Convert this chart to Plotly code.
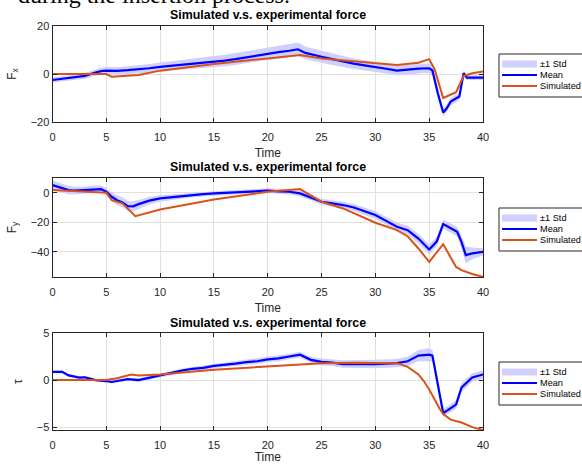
import plotly.graph_objects as go

# ---------------- data ----------------
t_fx = [0, 0.5, 1, 2, 3, 4, 4.5, 5, 6, 7, 8, 9, 10, 11, 12, 13, 14, 15, 16, 17, 18, 19, 20, 21, 22,
        22.8, 23.5, 24, 25, 26, 27, 28, 29, 30, 31, 32, 33, 34, 35, 35.3, 35.8, 36.3, 36.6, 37, 37.8,
        38.2, 38.5, 39, 40]
fx_mean = [-2.5, -2.2, -2.0, -1.4, -0.8, 0.6, 1.2, 1.4, 1.3, 1.6, 1.9, 2.4, 3.0, 3.4, 4.0, 4.3, 4.7, 5.0,
           5.6, 6.2, 7.0, 7.8, 8.6, 9.1, 9.7, 10.3, 8.8, 8.2, 7.2, 6.2, 5.1, 4.3, 3.6, 3.0, 2.2, 1.4, 1.9,
           2.2, 2.4, 1.5, -8, -16, -14.5, -11.5, -9.4, 0.3, -1.5, -1.4, -1.5]
fx_std = [1.0, 1.0, 1.0, 1.1, 1.2, 1.3, 1.4, 1.5, 1.5, 1.6, 1.7, 1.8, 1.8, 1.9, 2.0, 2.1, 2.2, 2.3, 2.4,
          2.5, 2.5, 2.6, 2.6, 2.7, 2.8, 2.8, 2.7, 2.6, 2.5, 2.4, 2.3, 2.2, 2.1, 2.0, 2.0, 2.0, 2.0, 2.0,
          2.0, 2.0, 2.0, 1.6, 1.5, 1.5, 1.5, 1.2, 1.0, 1.0, 1.0]
t_fx_sim = [0, 5, 5.5, 6, 8, 10, 15, 20, 23, 25, 30, 32, 34, 35, 35.5, 36.3, 37.5, 38.2, 39, 40]
fx_sim = [0, 0, -1.1, -1.0, -0.4, 1.4, 4.2, 6.5, 7.9, 6.5, 4.7, 3.75, 4.7, 6.2, 2, -10, -7.6, -0.8, 0.3, 1.0]

t_fy = [0, 0.5, 1, 1.5, 2, 3, 4, 4.5, 5, 5.5, 6, 6.5, 7, 7.5, 8, 8.5, 9, 10, 11, 12, 13, 14, 15, 17, 20,
        21, 22, 23, 24, 25, 26, 27, 28, 29, 30, 31, 32, 33, 34, 35, 35.7, 36.3, 37, 37.6, 38, 38.4, 39, 40]
fy_mean = [5.2, 4.0, 2.8, 1.8, 1.5, 1.8, 2.5, 2.5, 0.7, -2.7, -5, -6.5, -9, -9.2, -7.7, -6.5, -5.3, -3.8,
           -3, -2.2, -1.5, -0.9, -0.4, 0.3, 1.4, 1.0, 0.7, -0.4, -3, -6.1, -7.2, -8.3, -10, -12.5, -15,
           -19, -23, -25.3, -31, -38.4, -33, -21.2, -24.1, -26.4, -33.2, -42.2, -41, -40]
fy_std = [3.4, 3.2, 3.0, 2.8, 2.6, 2.4, 2.4, 2.4, 2.6, 3.0, 3.2, 3.4, 3.4, 3.4, 3.0, 2.8, 2.5, 2.2, 2.0,
          1.8, 1.6, 1.5, 1.5, 1.5, 1.6, 1.7, 1.8, 1.9, 2.0, 2.0, 2.2, 2.3, 2.4, 2.5, 2.5, 2.7, 2.8, 3.0,
          3.2, 3.4, 3.2, 3.0, 3.0, 3.2, 4.5, 5.6, 4.0, 2.5]
t_fy_sim = [0, 1, 4, 5, 5.5, 6, 6.5, 7.7, 10, 15, 20, 23, 25, 27, 30, 32, 33, 34, 35, 36.3, 37, 37.5, 38, 39, 40]
fy_sim = [1.8, 1.4, 0.7, 0, -5, -6.1, -7.2, -15.8, -11.3, -4.5, 0.7, 2.5, -6.1, -10.6, -20.3, -25.3,
          -29.4, -37.7, -46.8, -34.8, -43.4, -50.2, -52.4, -55, -56.9]

t_tau = [0, 0.9, 1.5, 2.5, 3, 4, 5, 5.5, 6, 7, 8, 9, 10, 11, 12, 13, 14, 15, 16, 17, 18, 19, 20, 21, 22,
         23, 24, 25, 26, 27, 30, 32, 33, 34, 35, 35.3, 36.3, 37, 37.5, 38, 39, 40]
tau_mean = [0.87, 0.87, 0.5, 0.26, 0.3, 0.0, -0.1, -0.2, -0.1, 0.1, 0.0, 0.26, 0.5, 0.7, 1.0, 1.2, 1.3,
            1.5, 1.6, 1.75, 1.9, 2.0, 2.2, 2.3, 2.5, 2.7, 2.15, 1.93, 1.85, 1.7, 1.7, 1.8, 2.0, 2.6, 2.7,
            2.6, -3.5, -3.0, -2.6, -0.8, 0.27, 0.6]
tau_std = [0.15, 0.15, 0.15, 0.15, 0.15, 0.15, 0.15, 0.15, 0.15, 0.15, 0.2, 0.2, 0.2, 0.2, 0.2, 0.2,
           0.25, 0.25, 0.25, 0.25, 0.3, 0.3, 0.3, 0.3, 0.3, 0.3, 0.3, 0.35, 0.35, 0.4, 0.45, 0.45, 0.5,
           0.6, 0.7, 0.6, 0.4, 0.4, 0.45, 0.5, 0.45, 0.45]
t_tau_sim = [0, 5, 6, 7.3, 8, 10, 15, 20, 22, 25, 28, 30, 32, 33, 34, 34.5, 35, 36, 36.3, 37, 38, 39, 40]
tau_sim = [0, 0, 0.2, 0.6, 0.5, 0.6, 1.1, 1.45, 1.57, 1.8, 1.85, 1.85, 1.8, 1.4, 0.6, -0.1, -1.0, -3.1,
           -3.6, -4.2, -4.5, -5.0, -5.3]

titles = ["Simulated v.s. experimental force"] * 3
ylabels = ["F<sub>x</sub>", "F<sub>y</sub>", "τ"]
xlabel = "Time"
legend_labels = ["±1 Std", "Mean", "Simulated"]
caption = "during the insertion process."
xticks = [0, 5, 10, 15, 20, 25, 30, 35, 40]
yticks = [[-20, 0, 20], [-40, -20, 0], [-5, 0, 5]]
yranges = [[-20, 20], [-57, 10], [-5.3, 5]]

# ---------------- styling / layout ----------------
W, H = 582, 464
BAND = "rgb(208,208,255)"
BLUE = "rgb(0,0,255)"
ORANGE = "rgb(217,83,25)"
AX = "#262626"
GRID = "#e0e0e0"
FONT = "Liberation Sans, Arial, sans-serif"

def px(x):
    return x / W

def py(y):
    return 1 - y / H

x_left, x_right = 52.5, 483
rows_px = [(26, 122), (178, 277), (333, 430)]
title_y = [14.5, 167.5, 322.5]
legend_top = [54, 208, 362]

series = [
    (t_fx, fx_mean, fx_std, t_fx_sim, fx_sim),
    (t_fy, fy_mean, fy_std, t_fy_sim, fy_sim),
    (t_tau, tau_mean, tau_std, t_tau_sim, tau_sim),
]

fig = go.Figure()
shapes = []
annotations = []

for i, (tt, mm, ss, ts, sv) in enumerate(series):
    k = "" if i == 0 else str(i + 1)
    xa, ya = "x" + k, "y" + k
    upper = [m + s for m, s in zip(mm, ss)]
    lower = [m - s for m, s in zip(mm, ss)]
    fig.add_trace(go.Scatter(x=tt + tt[::-1], y=upper + lower[::-1], fill="toself",
                             fillcolor=BAND, line=dict(width=0), mode="lines",
                             xaxis=xa, yaxis=ya, showlegend=False, hoverinfo="skip"))
    fig.add_trace(go.Scatter(x=tt, y=mm, mode="lines", line=dict(color=BLUE, width=2.2),
                             xaxis=xa, yaxis=ya, showlegend=False))
    fig.add_trace(go.Scatter(x=ts, y=sv, mode="lines", line=dict(color=ORANGE, width=2),
                             xaxis=xa, yaxis=ya, showlegend=False))

    top, bot = rows_px[i]
    axis_common = dict(showline=True, mirror="ticks", linecolor=AX, linewidth=1,
                       ticks="inside", ticklen=4, tickcolor=AX, tickwidth=1, automargin=False,
                       showgrid=True, gridcolor=GRID, gridwidth=1, zeroline=False,
                       tickfont=dict(family=FONT, size=11, color=AX))
    fig.layout["xaxis" + k] = dict(axis_common, domain=[px(x_left), px(x_right)], range=[0, 40],
                                   tickvals=xticks, anchor=ya, ticklabelstandoff=5,
                                   title=dict(text=xlabel, font=dict(family=FONT, size=12, color=AX),
                                              standoff=6))
    fig.layout["yaxis" + k] = dict(axis_common, domain=[py(bot), py(top)], range=yranges[i],
                                   tickvals=yticks[i], anchor=xa,
                                   title=dict(text=ylabels[i], font=dict(family=FONT, size=12, color=AX),
                                              standoff=11))
    annotations.append(dict(text="<b>" + titles[i] + "</b>", x=px((x_left + x_right) / 2), y=py(title_y[i]),
                            xref="paper", yref="paper", showarrow=False, xanchor="center", yanchor="middle",
                            font=dict(family=FONT, size=12.4, color="black")))

    # legend box (drawn like the original, clipped by the right edge)
    lt = legend_top[i]
    shapes.append(dict(type="rect", xref="paper", yref="paper", x0=px(499), x1=px(620),
                       y0=py(lt + 43), y1=py(lt), line=dict(color=AX, width=1), fillcolor="white"))
    rows = [lt + 10, lt + 21, lt + 32]
    shapes.append(dict(type="rect", xref="paper", yref="paper", x0=px(502), x1=px(537),
                       y0=py(rows[0] + 3.5), y1=py(rows[0] - 3.5), line=dict(width=0), fillcolor=BAND))
    shapes.append(dict(type="line", xref="paper", yref="paper", x0=px(502), x1=px(537),
                       y0=py(rows[1]), y1=py(rows[1]), line=dict(color=BLUE, width=2)))
    shapes.append(dict(type="line", xref="paper", yref="paper", x0=px(502), x1=px(537),
                       y0=py(rows[2]), y1=py(rows[2]), line=dict(color=ORANGE, width=2)))
    for lab, ry in zip(legend_labels, rows):
        annotations.append(dict(text=lab, x=px(538), y=py(ry), xref="paper", yref="paper",
                                showarrow=False, xanchor="left", yanchor="middle",
                                font=dict(family=FONT, size=9.2, color="black")))

# clipped caption line of the surrounding document
annotations.append(dict(text=caption, x=px(16), y=py(-5), xref="paper", yref="paper",
                        showarrow=False, xanchor="left", yanchor="middle",
                        font=dict(family="Liberation Serif, Times New Roman, serif", size=24, color="black")))

fig.update_layout(width=W, height=H, margin=dict(l=0, r=0, t=0, b=0),
                  paper_bgcolor="white", plot_bgcolor="white", showlegend=False,
                  shapes=shapes, annotations=annotations)

fig.write_html("out.html")
